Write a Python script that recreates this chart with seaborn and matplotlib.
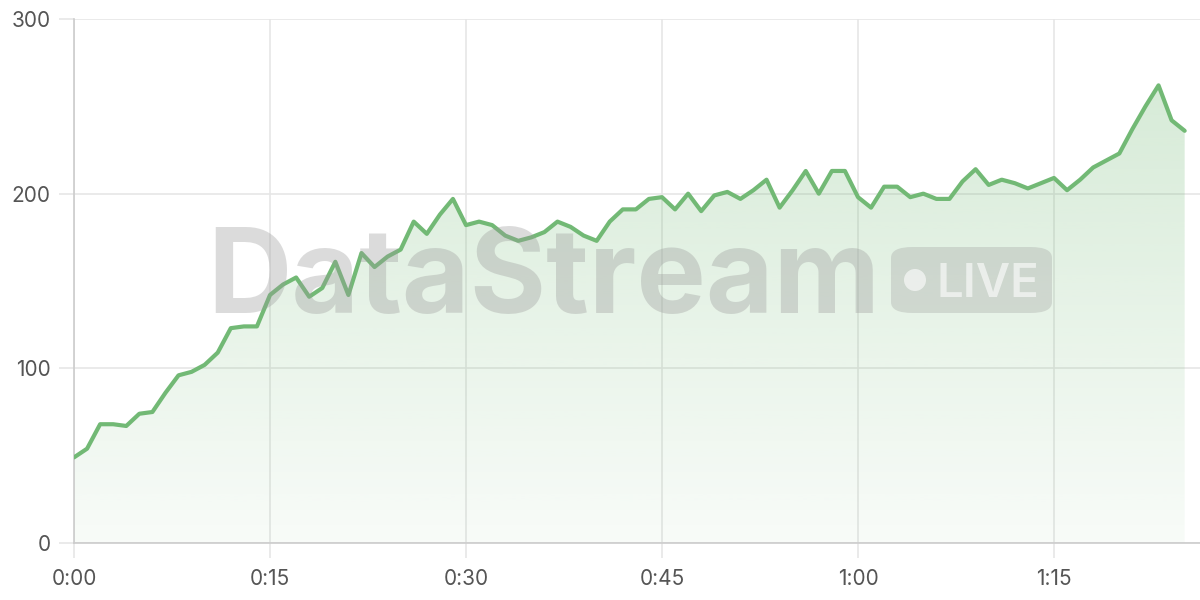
import numpy as np
import pandas as pd
import matplotlib
matplotlib.use("Agg")
import matplotlib.pyplot as plt
import seaborn as sns
from matplotlib.patches import FancyBboxPatch, Ellipse

minutes = list(range(86))
values = [49, 54, 68, 68, 67, 74, 75, 86, 96, 98,
          102, 109, 123, 124, 124, 142, 148, 152, 141, 146,
          161, 142, 166, 158, 164, 168, 184, 177, 188, 197,
          182, 184, 182, 176, 173, 175, 178, 184, 181, 176,
          173, 184, 191, 191, 197, 198, 191, 200, 190, 199,
          201, 197, 202, 208, 192, 202, 213, 200, 213, 213,
          198, 192, 204, 204, 198, 200, 197, 197, 207, 214,
          205, 208, 206, 203, 206, 209, 202, 208, 215, 219,
          223, 237, 250, 262, 242, 236]
y_ticks = [0, 100, 200, 300]
x_ticks = [0, 15, 30, 45, 60, 75]
x_labels = ["0:00", "0:15", "0:30", "0:45", "1:00", "1:15"]

df = pd.DataFrame({"minute": minutes, "value": values})

sns.set_style("white")
plt.rcParams['font.family'] = ['Inter', 'DejaVu Sans']

fig = plt.figure(figsize=(12, 6), dpi=100)
ax = fig.add_axes([74/1200, 57/600, 1 - 74/1200, (543-19)/600])

line_color = "#72b975"
xmax = 1126 / (196/15)
ax.set_xlim(0, xmax)
ax.set_ylim(0, 300)

# gradient fill under the line
grad = np.linspace(0.05, 0.32, 256).reshape(-1, 1)
rgba = np.zeros((256, 1, 4))
rgba[..., 0] = 0x72/255
rgba[..., 1] = 0xb9/255
rgba[..., 2] = 0x75/255
rgba[..., 3] = grad
poly = ax.fill_between(df["minute"], df["value"], 0, color="none", lw=0)
img = ax.imshow(rgba, extent=[0, max(minutes), 0, 300], origin="lower",
                aspect="auto", zorder=1)
path = poly.get_paths()[0]
img.set_clip_path(path, transform=ax.transData)

# watermark
fig.text(207/1200, (600-313)/600, "DataStream", fontsize=84, fontweight="bold",
         color="#9a9a9a", alpha=0.35, ha="left", va="baseline", zorder=2,
         family=["Inter", "DejaVu Sans"])
pill = FancyBboxPatch((891/1200, (600-313)/600), (1052-891)/1200, (313-247)/600,
                      boxstyle="round,pad=0,rounding_size=0.018",
                      transform=fig.transFigure, facecolor="#9a9a9a", alpha=0.3,
                      edgecolor="none", zorder=2)
fig.patches.append(pill)
fig.patches.append(Ellipse((915/1200, (600-280)/600), 22/1200, 22/600,
                           transform=fig.transFigure,
                           facecolor="white", alpha=0.6, edgecolor="none", zorder=3))
fig.text(936/1200, (600-297)/600, "LIVE", fontsize=34, fontweight="semibold",
         color="white", alpha=0.6,
         ha="left", va="baseline", zorder=3, family=["Inter", "DejaVu Sans"])

sns.lineplot(data=df, x="minute", y="value", ax=ax, color=line_color,
             linewidth=3, zorder=4)

ax.set_xticks(x_ticks)
ax.set_xticklabels(x_labels)
ax.set_yticks(y_ticks)
ax.set_xlabel("")
ax.set_ylabel("")
ax.grid(True, color="#e6e6e6", linewidth=1.2)
ax.set_axisbelow(True)
for s in ["top", "right"]:
    ax.spines[s].set_visible(False)
for s in ["left", "bottom"]:
    ax.spines[s].set_color("#cccccc")
    ax.spines[s].set_linewidth(1.2)
ax.tick_params(axis="both", length=11, width=1.2, color="#e6e6e6",
               labelsize=15, labelcolor="#555555", pad=6, direction="out")
ax.tick_params(axis="x", pad=8)
ax.tick_params(left=True, bottom=True)

fig.savefig("out.png", dpi=100)
